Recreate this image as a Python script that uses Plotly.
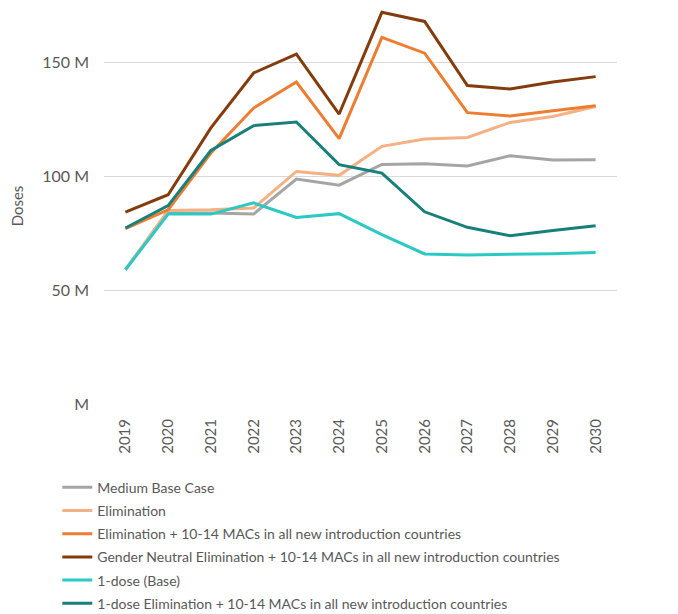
import plotly.graph_objects as go

years = [str(y) for y in range(2019, 2031)]

medium_base = [58.9, 83.8, 83.8, 83.3, 98.7, 96.0, 105.1, 105.4, 104.4, 108.9, 107.0, 107.1]
elimination = [58.9, 84.9, 85.2, 86.0, 102.0, 100.3, 113.0, 116.2, 116.9, 123.5, 126.1, 130.5]
elim_macs = [76.9, 85.2, 110.1, 129.8, 141.2, 116.4, 160.8, 153.9, 127.8, 126.3, 128.6, 130.8]
gn_elim_macs = [84.2, 91.8, 121.1, 145.2, 153.5, 127.2, 171.8, 167.8, 139.7, 138.2, 141.2, 143.6]
one_dose_base = [58.9, 83.3, 83.3, 88.2, 81.8, 83.5, 74.3, 65.8, 65.4, 65.6, 65.9, 66.4]
one_dose_elim = [77.2, 87.0, 111.2, 122.1, 123.7, 105.0, 101.3, 84.3, 77.5, 73.8, 76.1, 78.2]

series = [
    ("Medium Base Case", medium_base, "#A5A5A5"),
    ("Elimination", elimination, "#F4B183"),
    ("Elimination + 10-14 MACs in all new introduction countries", elim_macs, "#ED7D31"),
    ("Gender Neutral Elimination + 10-14 MACs in all new introduction countries", gn_elim_macs, "#843C0C"),
    ("1-dose (Base)", one_dose_base, "#2CC9C4"),
    ("1-dose Elimination + 10-14 MACs in all new introduction countries", one_dose_elim, "#17807A"),
]

tick_vals = [0, 50, 100, 150]
tick_text = ["M", "50 M", "100 M", "150 M"]

fig = go.Figure()
for i, (name, vals, color) in enumerate(series):
    fig.add_trace(go.Scatter(x=years, y=[v * 1e6 for v in vals], name=name, mode="lines",
                             legendgroup=f"g{i}",
                             line=dict(color=color, width=3)))

font = "Lato, sans-serif"
fig.update_layout(
    width=670, height=606,
    margin=dict(l=96, r=61, t=0, b=210, autoexpand=False),
    plot_bgcolor="white", paper_bgcolor="white",
    font=dict(family=font, size=14, color="#595959"),
    showlegend=True,
    legend=dict(orientation="v", x=-0.091, xanchor="left", y=-0.171, yanchor="top",
                font=dict(size=14, color="#595959"), itemwidth=30,
                tracegroupgap=2, bgcolor="rgba(0,0,0,0)"),
    xaxis=dict(type="category", range=[-0.5, 11.5], tickangle=-90, showgrid=False,
               showline=False, ticks="", automargin=False, ticklabelstandoff=11,
               tickfont=dict(size=15, color="#595959")),
    yaxis=dict(range=[0, 173.7e6], tickvals=[v * 1e6 for v in tick_vals], ticktext=tick_text,
               showgrid=True, gridcolor="#D9D9D9", gridwidth=1, zeroline=False,
               showline=False, ticks="", ticklabelstandoff=14, automargin=False,
               title=dict(text="Doses", font=dict(size=15, color="#595959"), standoff=14),
               tickfont=dict(size=16, color="#595959")),
)

fig.write_html("out.html")
